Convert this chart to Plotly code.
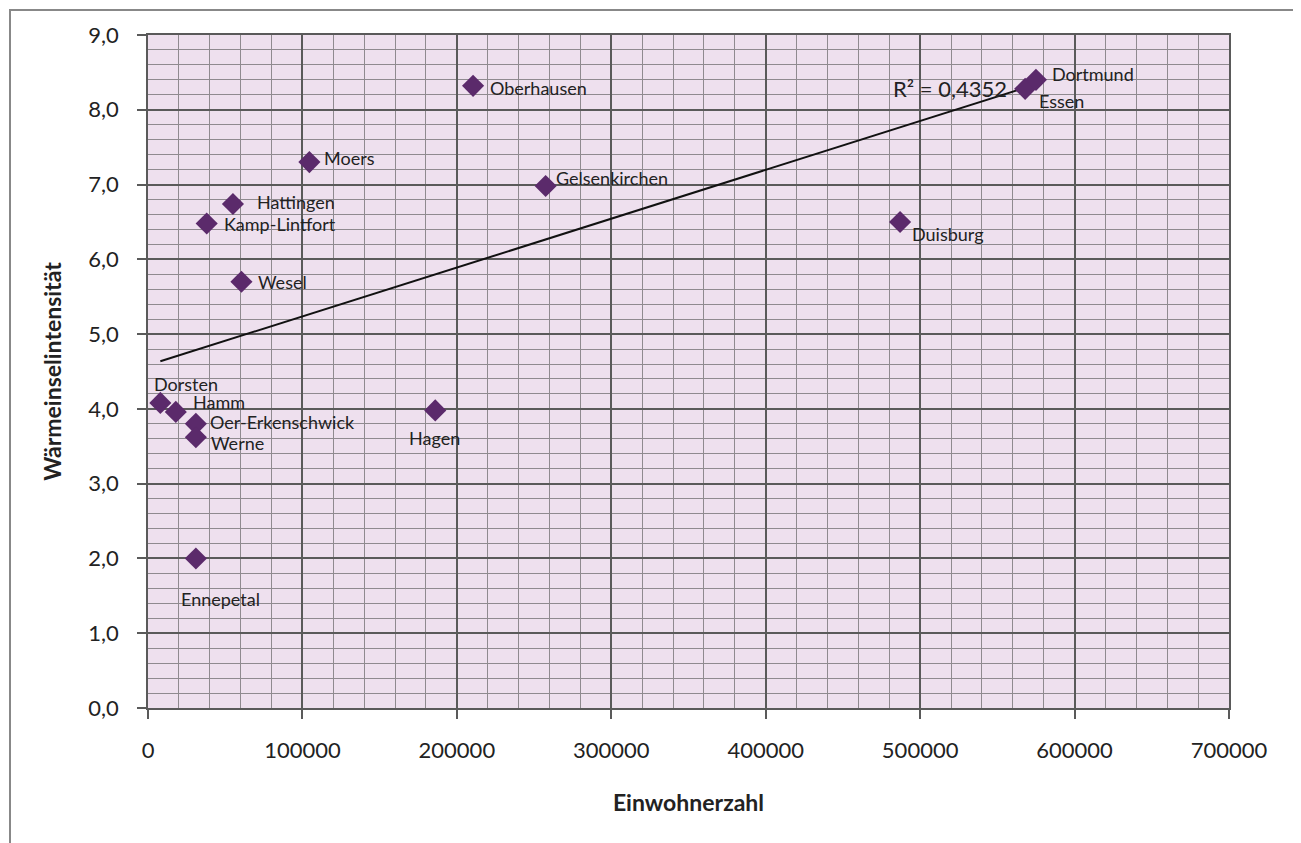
import numpy as np
import plotly.graph_objects as go

# ---- data ----
cities = ["Dorsten", "Hamm", "Oer-Erkenschwick", "Werne", "Ennepetal",
          "Kamp-Lintfort", "Hattingen", "Wesel", "Moers", "Hagen",
          "Oberhausen", "Gelsenkirchen", "Duisburg", "Essen", "Dortmund"]
einwohner = [8000, 18000, 31000, 31000, 31000,
             38000, 55000, 60500, 104500, 186000,
             210500, 257500, 487000, 568000, 575000]
intensitaet = [4.08, 3.96, 3.80, 3.62, 2.00,
               6.48, 6.74, 5.70, 7.30, 3.98,
               8.32, 6.98, 6.50, 8.28, 8.40]
r2_text = "R² = 0,4352"

# label offsets (pixels) and anchors
label_pos = {
    "Dorsten": (-8, 19, "left"),
    "Hamm": (15, 10, "left"),
    "Oer-Erkenschwick": (12, 2, "left"),
    "Werne": (13, -6, "left"),
    "Ennepetal": (-17, -41, "left"),
    "Kamp-Lintfort": (15, -1, "left"),
    "Hattingen": (22, 2, "left"),
    "Wesel": (15, 0, "left"),
    "Moers": (13, 4, "left"),
    "Hagen": (-1, -28, "center"),
    "Oberhausen": (15, -2, "left"),
    "Gelsenkirchen": (8, 8, "left"),
    "Duisburg": (10, -12, "left"),
    "Essen": (12, -12, "left"),
    "Dortmund": (14, 6, "left"),
}

FONT = "Lato"
TXT = "#222222"

fig = go.Figure()

# trendline (linear least squares)
xs = np.array(einwohner, dtype=float)
ys = np.array(intensitaet, dtype=float)
m, b = np.polyfit(xs, ys, 1)
xl = np.array([xs.min(), xs.max()])
fig.add_trace(go.Scatter(x=xl, y=m * xl + b, mode="lines",
                         line=dict(color="#111111", width=2),
                         hoverinfo="skip", showlegend=False))

fig.add_trace(go.Scatter(
    x=einwohner, y=intensitaet, mode="markers",
    marker=dict(symbol="diamond", size=17, color="#5B2A6B",
                line=dict(width=0)),
    text=cities, showlegend=False))

annotations = []
for c, xv, yv in zip(cities, einwohner, intensitaet):
    dx, dy, anc = label_pos[c]
    annotations.append(dict(x=xv, y=yv, xref="x", yref="y", text=c,
                            showarrow=False, xanchor=anc, yanchor="middle",
                            xshift=dx, yshift=dy,
                            font=dict(family=FONT, size=18, color=TXT)))

annotations.append(dict(x=481000, y=8.29, xref="x", yref="y", text=r2_text,
                        showarrow=False, xanchor="left", yanchor="middle",
                        font=dict(family=FONT, size=22, color=TXT)))

fig.update_layout(
    width=1301, height=843,
    margin=dict(l=140, r=80, t=27, b=143),
    paper_bgcolor="white",
    plot_bgcolor="#EEE0EE",
    separators=",.",
    annotations=annotations,
    font=dict(family=FONT, color=TXT),
    shapes=[dict(type="rect", xref="paper", yref="paper",
                 x0=(10 - 148) / 1081, x1=(1298 - 148) / 1081,
                 y0=-0.3, y1=1 + 25 / 673,
                 line=dict(color="#888888", width=2), layer="below")],
)

fig.update_xaxes(
    range=[0, 700000], dtick=100000, tickformat="d",
    showgrid=True, gridcolor="#5a5a5a", gridwidth=1.5,
    minor=dict(dtick=20000, showgrid=True, gridcolor="#8f8a8f", gridwidth=1),
    showline=True, linecolor="#5a5a5a", linewidth=1.5, mirror=True,
    ticks="outside", ticklen=9, tickcolor="#5a5a5a", tickwidth=1.5,
    tickfont=dict(family=FONT, size=22, color=TXT),
    ticklabelstandoff=13,
    title=dict(text="<b>Einwohnerzahl</b>", font=dict(family=FONT, size=23, color=TXT),
               standoff=33),
    zeroline=False,
)
fig.update_yaxes(
    range=[0, 9], dtick=1, tickformat=".1f",
    showgrid=True, gridcolor="#5a5a5a", gridwidth=1.5,
    minor=dict(dtick=0.2, showgrid=True, gridcolor="#8f8a8f", gridwidth=1),
    showline=True, linecolor="#5a5a5a", linewidth=1.5, mirror=True,
    ticks="outside", ticklen=9, tickcolor="#5a5a5a", tickwidth=1.5,
    tickfont=dict(family=FONT, size=22, color=TXT),
    ticklabelstandoff=14,
    title=dict(text="<b>Wärmeinselintensität</b>", font=dict(family=FONT, size=23, color=TXT),
               standoff=20),
    zeroline=False,
)

fig.write_html("out.html")
